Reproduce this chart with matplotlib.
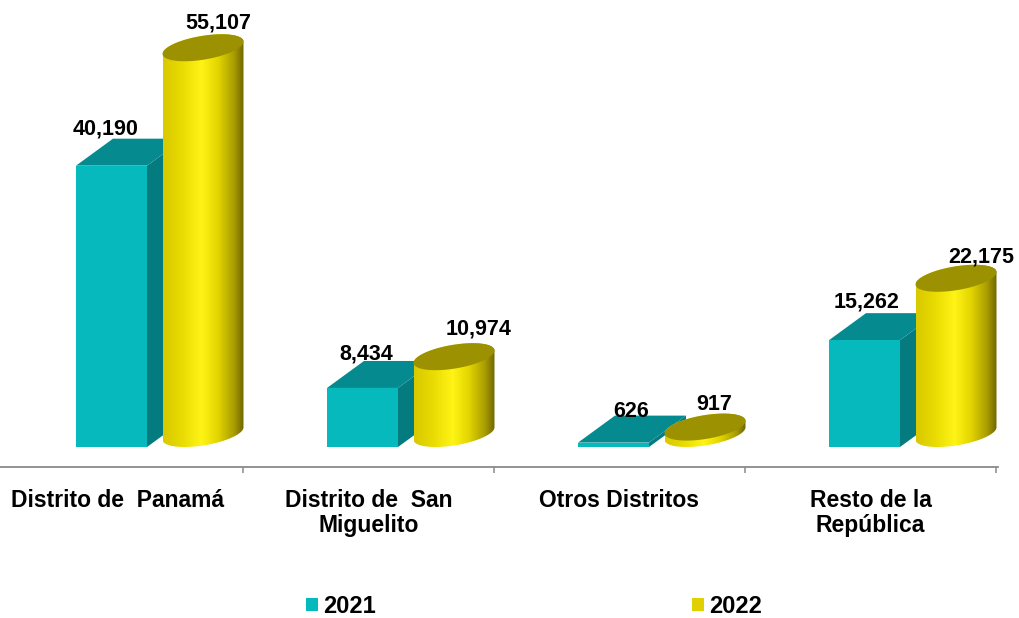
import numpy as np
import matplotlib
matplotlib.use("Agg")
import matplotlib.pyplot as plt
from matplotlib.patches import Patch, Polygon
from matplotlib.colors import LinearSegmentedColormap

categories = ["Distrito de  Panamá", "Distrito de  San\nMiguelito", "Otros Distritos", "Resto de la\nRepública"]
series_names = ["2021", "2022"]
values_2021 = [40190, 8434, 626, 15262]
values_2022 = [55107, 10974, 917, 22175]

plt.rcParams["font.family"] = ["Liberation Sans", "DejaVu Sans"]
plt.rcParams["font.weight"] = "bold"

W, H = 1019, 618
AXIS_Y = 467
PX_PER_CAT = 251.0
PX_PER_VAL = 0.00700
LEFT_PX = 117.5
RIGHT_PX = 998

fig = plt.figure(figsize=(W / 100, H / 100), dpi=100, facecolor="white")
ax = fig.add_axes([0, (H - AXIS_Y) / H, RIGHT_PX / W, AXIS_Y / H])
ax.set_xlim(-LEFT_PX / PX_PER_CAT, (RIGHT_PX - LEFT_PX) / PX_PER_CAT)
ax.set_ylim(-(AXIS_Y - 447) / PX_PER_VAL, 447 / PX_PER_VAL)

TEAL_FRONT, TEAL_TOP, TEAL_SIDE = "#05b9bd", "#058b8f", "#047b7f"
OLIVE = "#9c9100"
cyl_cmap = LinearSegmentedColormap.from_list(
    "cyl",
    [(0, "#d9c900"), (0.2, "#e6d800"), (0.48, "#fff415"), (0.68, "#e3d500"),
     (0.88, "#a89c00"), (1, "#6f6600")],
)


def dx(px):
    return px / PX_PER_CAT


def dy(px):
    return px / PX_PER_VAL


# depth vector of the pseudo-3D box, in pixels
DEPTH_X, DEPTH_Y = 37, 27
FRONT_W = 71


def draw_box(i, v):
    x0 = i + dx(-41.5)
    x1 = x0 + dx(FRONT_W)
    ddx, ddy = dx(DEPTH_X), dy(DEPTH_Y)
    ax.add_patch(Polygon([(x1, 0), (x1 + ddx, ddy), (x1 + ddx, v + ddy), (x1, v)],
                         fc=TEAL_SIDE, ec="none", zorder=2))
    ax.add_patch(Polygon([(x0, v), (x1, v), (x1 + ddx, v + ddy), (x0 + ddx, v + ddy)],
                         fc=TEAL_TOP, ec="none", zorder=2))
    ax.add_patch(Polygon([(x0, 0), (x1, 0), (x1, v), (x0, v)],
                         fc=TEAL_FRONT, ec="none", zorder=3))


def ell(i, level, t):
    cx = i + dx(85.5)
    return np.column_stack([
        cx + dx(36.0 * np.cos(t) + 18.5 * np.sin(t)),
        level + dy(13.5 + 13.5 * np.sin(t)),
    ])


def draw_cylinder(i, v):
    t0 = np.arctan2(18.5, 36.0)
    front = np.linspace(t0 + np.pi, t0 + 2 * np.pi, 80)
    back = np.linspace(t0, t0 + np.pi, 80)
    body = np.vstack([ell(i, 0, front), ell(i, v, back)])
    clip = Polygon(body, transform=ax.transData, fc="none", ec="none")
    ax.add_patch(clip)
    half = np.hypot(36.0, 18.5)
    cx = i + dx(85.5)
    im = ax.imshow(np.linspace(0, 1, 256)[None, :], cmap=cyl_cmap, aspect="auto",
                   extent=[cx - dx(half), cx + dx(half), 0, v + dy(27)], zorder=4,
                   interpolation="bilinear")
    im.set_clip_path(clip)
    ax.add_patch(Polygon(ell(i, v, np.linspace(0, 2 * np.pi, 160)),
                         fc=OLIVE, ec="none", zorder=5))


for i, (a, b) in enumerate(zip(values_2021, values_2022)):
    draw_box(i, a)
    draw_cylinder(i, b)

# value labels: pixel nudges from the mark's top
nudge_2021 = [(-12, 37), (-2, 34), (12, 31), (-4, 38)]
nudge_2022 = [(15, 38), (25, 41), (9, 36), (25, 35)]
for i, (a, b) in enumerate(zip(values_2021, values_2022)):
    nx, ny = nudge_2021[i]
    ax.text(i + dx(nx), a + dy(ny), f"{a:,}", ha="center", va="center",
            fontsize=15.5, fontweight="bold", color="black", zorder=6)
    nx, ny = nudge_2022[i]
    ax.text(i + dx(85.5 + nx), b + dy(ny), f"{b:,}", ha="center", va="center",
            fontsize=15.5, fontweight="bold", color="black", zorder=6)

# axis
ax.set_xlim(-LEFT_PX / PX_PER_CAT, (RIGHT_PX - LEFT_PX) / PX_PER_CAT)
ax.set_ylim(-(AXIS_Y - 447) / PX_PER_VAL, 447 / PX_PER_VAL)
for s in ["top", "left", "right"]:
    ax.spines[s].set_visible(False)
ax.spines["bottom"].set_color("#8a8a8a")
ax.spines["bottom"].set_linewidth(1.3)
ax.set_yticks([])
ax.set_xticks(np.arange(len(categories)) + 0.5)
ax.set_xticklabels([])
ax.tick_params(axis="x", which="major", length=4.5, width=1.1, color="#8a8a8a")
ax.set_xticks(np.arange(len(categories)), minor=True)
ax.set_xticklabels(categories, minor=True, fontsize=16.5, fontweight="bold",
                   linespacing=1.08, color="black")
ax.tick_params(axis="x", which="minor", length=0, pad=16)

handles = [Patch(fc="#05b9bd", ec="none"), Patch(fc="#e0d000", ec="none")]
fig.legend(handles, series_names, ncol=2, frameon=False, loc="center",
           bbox_to_anchor=(534 / W, 1 - 606.5 / H), fontsize=17,
           handlelength=0.51, handleheight=0.51, handletextpad=0.21,
           columnspacing=13.4, borderpad=0, borderaxespad=0)

fig.savefig("out.png", dpi=100, facecolor="white")
